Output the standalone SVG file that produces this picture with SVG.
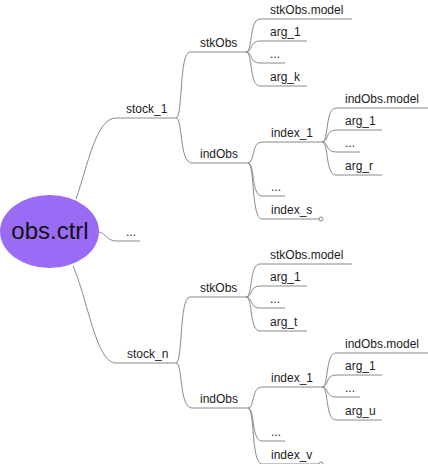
<svg xmlns="http://www.w3.org/2000/svg" width="428" height="464" viewBox="0 0 428 464">
<style>
.t{font-family:"Liberation Sans",Arial,sans-serif;font-size:12px;fill:#222}
.c{fill:none;stroke:#8a8a8a;stroke-width:1}
.e{fill:#fff;stroke:#8a8a8a;stroke-width:1}
</style>
<rect width="428" height="464" fill="#fff"/>
<g id="connectors">
<path class="c" d="M76,199 C88,165 96,118 116,118 L176,118"/>
<path class="c" d="M99,232 C106,234 108,241 116,241 L140,241"/>
<path class="c" d="M73,266 C88,300 96,363 116,363 L176,363"/>
<path class="c" d="M176,118 C183,118 179,52 190,52 L246,52"/>
<path class="c" d="M176,118 C183,118 179,163 192,163 L248,163"/>
<path class="c" d="M246,52 C253,52 249,19 260,19 L352,19"/>
<path class="c" d="M246,52 C253,52 249,41 260,41 L307,41"/>
<path class="c" d="M246,52 C253,52 249,63 260,63 L285,63"/>
<path class="c" d="M246,52 C253,52 249,86 260,86 L307,86"/>
<path class="c" d="M248,163 C255,163 251,142 262,142 L322,142"/>
<path class="c" d="M248,163 C255,163 251,196 262,196 L285,196"/>
<path class="c" d="M248,163 C255,163 251,219 262,219 L319,219"/>
<circle class="e" cx="321" cy="219" r="2"/>
<path class="c" d="M322,142 C329,142 325,108 336,108 L428,108"/>
<path class="c" d="M322,142 C329,142 325,130 336,130 L382,130"/>
<path class="c" d="M322,142 C329,142 325,152 336,152 L360,152"/>
<path class="c" d="M322,142 C329,142 325,175 336,175 L382,175"/>
<g transform="translate(0,245)">
<path class="c" d="M176,118 C183,118 179,52 190,52 L246,52"/>
<path class="c" d="M176,118 C183,118 179,163 192,163 L248,163"/>
<path class="c" d="M246,52 C253,52 249,19 260,19 L352,19"/>
<path class="c" d="M246,52 C253,52 249,41 260,41 L307,41"/>
<path class="c" d="M246,52 C253,52 249,63 260,63 L285,63"/>
<path class="c" d="M246,52 C253,52 249,86 260,86 L307,86"/>
<path class="c" d="M248,163 C255,163 251,142 262,142 L322,142"/>
<path class="c" d="M248,163 C255,163 251,196 262,196 L285,196"/>
<path class="c" d="M248,163 C255,163 251,219 262,219 L319,219"/>
<circle class="e" cx="321" cy="219" r="2"/>
<path class="c" d="M322,142 C329,142 325,108 336,108 L428,108"/>
<path class="c" d="M322,142 C329,142 325,130 336,130 L382,130"/>
<path class="c" d="M322,142 C329,142 325,152 336,152 L360,152"/>
<path class="c" d="M322,142 C329,142 325,175 336,175 L382,175"/>
</g>
</g>
<g id="root">
<ellipse cx="49.5" cy="231.5" rx="49.5" ry="36.5" fill="#9a6cf6"/>
<text x="50" y="239" text-anchor="middle" style="font-family:'Liberation Sans',Arial,sans-serif;font-size:24px;fill:#111">obs.ctrl</text>
</g>
<g id="stock_1"><text class="t" x="126" y="113">stock_1</text></g>
<g id="dots_root"><text class="t" x="126" y="236">...</text></g>
<g id="stock_n"><text class="t" x="127" y="358">stock_n</text></g>
<g id="stkObs_1"><text class="t" x="200" y="47">stkObs</text></g>
<g id="stkObs_model_1"><text class="t" x="270" y="14">stkObs.model</text></g>
<g id="stk_arg1_1"><text class="t" x="270" y="36">arg_1</text></g>
<g id="stk_dots_1"><text class="t" x="270" y="58">...</text></g>
<g id="stk_argk"><text class="t" x="270" y="81">arg_k</text></g>
<g id="indObs_1"><text class="t" x="200" y="158">indObs</text></g>
<g id="index_1_1"><text class="t" x="271" y="137">index_1</text></g>
<g id="idx_dots_1"><text class="t" x="271" y="191">...</text></g>
<g id="index_s"><text class="t" x="271" y="214">index_s</text></g>
<g id="indObs_model_1"><text class="t" x="345" y="103">indObs.model</text></g>
<g id="ind_arg1_1"><text class="t" x="345" y="125">arg_1</text></g>
<g id="ind_dots_1"><text class="t" x="345" y="147">...</text></g>
<g id="ind_argr"><text class="t" x="345" y="170">arg_r</text></g>
<g id="stkObs_n"><text class="t" x="200" y="292">stkObs</text></g>
<g id="stkObs_model_n"><text class="t" x="270" y="259">stkObs.model</text></g>
<g id="stk_arg1_n"><text class="t" x="270" y="281">arg_1</text></g>
<g id="stk_dots_n"><text class="t" x="270" y="303">...</text></g>
<g id="stk_argt"><text class="t" x="270" y="326">arg_t</text></g>
<g id="indObs_n"><text class="t" x="200" y="403">indObs</text></g>
<g id="index_1_n"><text class="t" x="271" y="382">index_1</text></g>
<g id="idx_dots_n"><text class="t" x="271" y="436">...</text></g>
<g id="index_v"><text class="t" x="271" y="459">index_v</text></g>
<g id="indObs_model_n"><text class="t" x="345" y="348">indObs.model</text></g>
<g id="ind_arg1_n"><text class="t" x="345" y="370">arg_1</text></g>
<g id="ind_dots_n"><text class="t" x="345" y="392">...</text></g>
<g id="ind_argu"><text class="t" x="345" y="415">arg_u</text></g>
</svg>
